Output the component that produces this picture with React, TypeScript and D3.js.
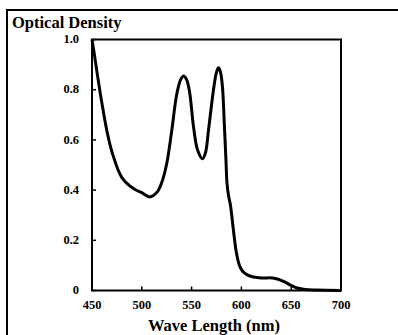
import React from "react";
import * as d3 from "d3";

// absorption spectrum
const wavelengths = [
  450, 452, 455, 460, 465, 470, 480, 492, 500, 508, 515, 520, 525, 530, 535,
  539, 542, 545, 548, 552, 556, 561, 564, 567, 572, 575, 577, 579, 581, 583,
  584.5, 585.5, 587, 589, 592, 595, 598, 601, 606, 612, 620, 631, 637, 644,
  650, 656, 664, 675, 700,
];
const density = [
  1.0, 0.95, 0.87, 0.745, 0.635, 0.553, 0.45, 0.405, 0.39, 0.373, 0.39, 0.43,
  0.505, 0.635, 0.78, 0.84, 0.855, 0.84, 0.79, 0.65, 0.56, 0.525, 0.55, 0.64,
  0.8, 0.87, 0.887, 0.87, 0.81, 0.65, 0.52, 0.43, 0.38, 0.34, 0.24, 0.15, 0.1,
  0.078, 0.062, 0.054, 0.05, 0.05, 0.045, 0.033, 0.02, 0.01, 0.004, 0.002, 0,
];
const xTicks = [450, 500, 550, 600, 650, 700];
const yTicks = [0, 0.2, 0.4, 0.6, 0.8, 1.0];
const yTickLabels = ["0", "0.2", "0.4", "0.6", "0.8", "1.0"];

const W = 398;
const H = 335;
const font = "'Liberation Serif', 'Times New Roman', serif";

export default function App() {
  const x = d3.scaleLinear().domain([450, 700]).range([92, 341]);
  const y = d3.scaleLinear().domain([0, 1]).range([290.5, 39.5]);

  const pts: [number, number][] = wavelengths.map((w, i) => [w, density[i]]);
  const line = d3
    .line<[number, number]>()
    .x(d => x(d[0]))
    .y(d => y(d[1]))
    .curve(d3.curveCatmullRom.alpha(0.5));

  return (
    <svg
      width={W}
      height={H}
      style={{ position: "absolute", left: 0, top: 0, background: "#fff" }}
      fontFamily={font}
      fontWeight="bold"
    >
      {/* outer frame */}
      <path d={`M7,${H} V10 H${W}`} fill="none" stroke="#000" strokeWidth={2} />
      <text x={12} y={28} fontSize={16.5}>
        Optical Density
      </text>

      {/* plot box */}
      <rect
        x={x(450)}
        y={y(1)}
        width={x(700) - x(450)}
        height={y(0) - y(1)}
        fill="none"
        stroke="#000"
        strokeWidth={2}
      />

      {xTicks.map(t => (
        <g key={t}>
          <line x1={x(t)} x2={x(t)} y1={y(0)} y2={y(0) - 4} stroke="#000" strokeWidth={1.5} />
          <text x={x(t)} y={309} fontSize={12.5} textAnchor="middle">
            {t}
          </text>
        </g>
      ))}

      {yTicks.map((t, i) => (
        <g key={t}>
          <line x1={x(450)} x2={x(450) + 4} y1={y(t)} y2={y(t)} stroke="#000" strokeWidth={1.5} />
          <text x={79} y={y(t)} dy="0.3em" fontSize={12.5} textAnchor="end">
            {yTickLabels[i]}
          </text>
        </g>
      ))}

      <path d={line(pts) || ""} fill="none" stroke="#000" strokeWidth={3} strokeLinejoin="round" />

      <text x={214} y={331} fontSize={16.5} textAnchor="middle">
        Wave Length (nm)
      </text>
    </svg>
  );
}
